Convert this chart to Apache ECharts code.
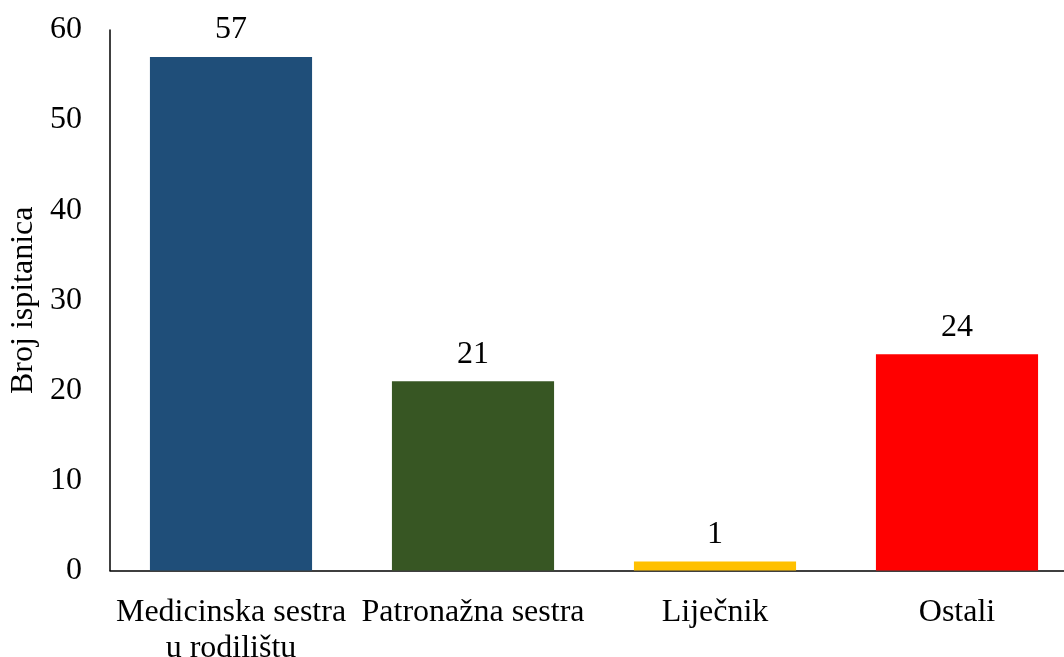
<!DOCTYPE html>
<html>
<head>
<meta charset="utf-8">
<script src="https://cdn.jsdelivr.net/npm/echarts@6/dist/echarts.min.js"></script>
<style>html,body{margin:0;padding:0;background:#fff;}#c{width:1064px;height:657px;}</style>
</head>
<body>
<div id="c"></div>
<script>
var categories = ['Medicinska sestra\nu rodilištu', 'Patronažna sestra', 'Liječnik', 'Ostali'];
var values = [57, 21, 1, 24];
var barColors = ['#1F4E79', '#375623', '#FFC000', '#FF0000'];
var yAxisName = 'Broj ispitanica';

var FONT = '"Liberation Serif", "Times New Roman", serif';
var chart = echarts.init(document.getElementById('c'), null, {renderer: 'canvas'});
chart.setOption({
  animation: false,
  backgroundColor: '#fff',
  grid: {left: 110, top: 30, width: 968, height: 540.5, containLabel: false, outerBoundsMode: 'none'},
  xAxis: {
    type: 'category',
    data: categories,
    axisLine: {show: true, lineStyle: {color: '#000', width: 1.5}},
    axisTick: {show: false},
    axisLabel: {color: '#000', fontFamily: FONT, fontSize: 32, margin: 24, lineHeight: 36, interval: 0}
  },
  yAxis: {
    type: 'value',
    min: 0, max: 60, interval: 10,
    name: yAxisName,
    nameLocation: 'middle',
    nameGap: 67,
    nameTextStyle: {color: '#000', fontFamily: FONT, fontSize: 32},
    axisLine: {show: true, lineStyle: {color: '#000', width: 1.5}},
    axisTick: {show: false},
    splitLine: {show: false},
    axisLabel: {color: '#000', fontFamily: FONT, fontSize: 32, margin: 28}
  },
  series: [{
    type: 'bar',
    data: values.map(function (v, i) { return {value: v, itemStyle: {color: barColors[i]}}; }),
    barWidth: '67%',
    label: {show: true, position: 'top', distance: 11, color: '#000', fontFamily: FONT, fontSize: 32}
  }]
});
</script>
</body>
</html>
